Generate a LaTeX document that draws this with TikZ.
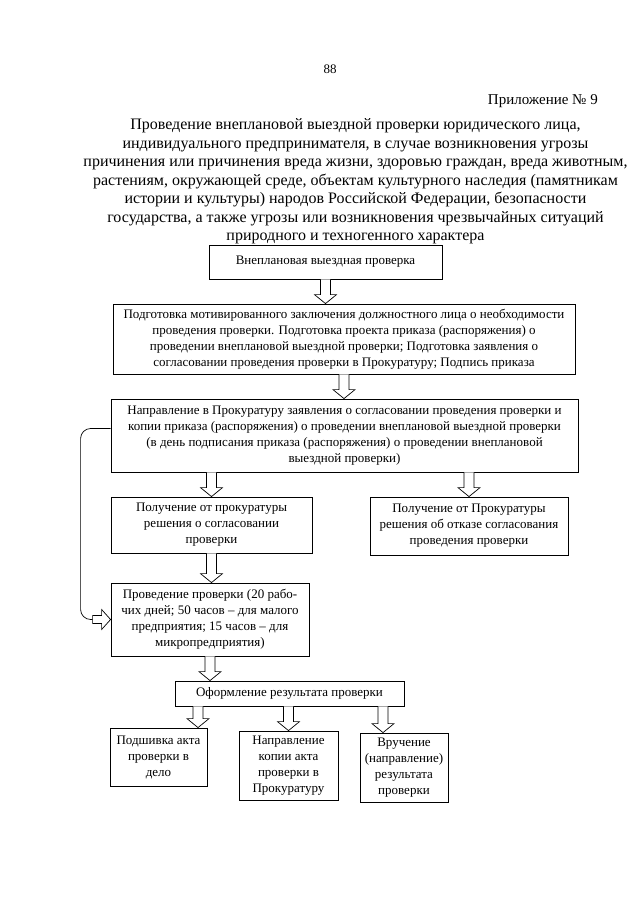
\documentclass[tikz,border=0pt]{standalone}
\usepackage{fontspec}
\setmainfont{Liberation Serif}
\usetikzlibrary{calc}

\tikzset{
	box/.style={draw, line width=0.8pt, align=center, inner sep=0pt, font=\fontsize{13}{16}\selectfont},
	fat/.style={draw, line width=0.7pt, fill=white}
}
% hollow block arrows
\newcommand{\fatdown}[2]{\path[fat] let \p1=(#1), \p2=(#2) in (\x1-5pt,\y1) -- (\x1-5pt,\y2+9pt) -- (\x1-11pt,\y2+9pt) -- (\x1,\y2) -- (\x1+11pt,\y2+9pt) -- (\x1+5pt,\y2+9pt) -- (\x1+5pt,\y1);}
\newcommand{\fatright}[2]{\path[fat] let \p1=(#1), \p2=(#2) in (\x1,\y1+4pt) -- (\x2-9pt,\y1+4pt) -- (\x2-9pt,\y1+10pt) -- (\x2,\y1) -- (\x2-9pt,\y1-10pt) -- (\x2-9pt,\y1-4pt) -- (\x1,\y1-4pt) -- cycle;}

\begin{document}
\begin{tikzpicture}[x=1pt, y=-1pt]
				\useasboundingbox[fill=white] (0,0) rectangle (640,905);
				%heading
				\node (page) at (330,69) {\fontsize{13}{16}\selectfont 88};
				\node (app) at (598,101) [anchor=east, inner sep=0pt]{\fontsize{15}{18}\selectfont Приложение № 9};
				\node (title) at (355.5,181.5) [align=center, font=\fontsize{16}{18.5}\selectfont]{Проведение внеплановой выездной проверки юридического лица,\\
					индивидуального предпринимателя, в случае возникновения угрозы\\
					причинения или причинения вреда жизни, здоровью граждан, вреда животным,\\
					растениям, окружающей среде, объектам культурного наследия (памятникам\\
					истории и культуры) народов Российской Федерации, безопасности\\
					государства, а также угрозы или возникновения чрезвычайных ситуаций\\
					природного и техногенного характера};
				
				%steps
				\node (start) at (325.5,262) [box, minimum width=233pt, minimum height=34pt]{Внеплановая выездная проверка};
				\node (prep) at (344,339) [box, minimum width=462pt, minimum height=70pt]{Подготовка мотивированного заключения должностного лица о необходимости\\проведения  проверки. Подготовка проекта приказа (распоряжения) о\\проведении внеплановой выездной проверки; Подготовка заявления о\\согласовании проведения проверки в Прокуратуру; Подпись приказа};
				\node (send) at (344.5,435.5) [box, minimum width=467pt, minimum height=73pt]{Направление в Прокуратуру заявления о согласовании проведения проверки и\\копии приказа (распоряжения) о проведении внеплановой выездной проверки\\(в день подписания приказа (распоряжения) о проведении внеплановой\\выездной проверки)};
				\node (agree) at (211.5,525) [box, minimum width=201pt, minimum height=56pt]{Получение от прокуратуры\\решения о согласовании\\проверки};
				\node (refuse) at (469,526) [box, minimum width=198pt, minimum height=58pt]{Получение от Прокуратуры\\решения об отказе согласования\\проведения проверки};
				\node (check) at (210,619.5) [box, minimum width=198pt, minimum height=73pt]{Проведение проверки (20 рабо-\\чих дней; 50 часов – для малого\\предприятия; 15 часов – для\\микропредприятия)};
				\node (result) at (289.5,693.5) [box, minimum width=229pt, minimum height=25pt]{Оформление результата проверки};
				\node (file) at (158.5,757) [box, minimum width=97pt, minimum height=58pt]{Подшивка акта\\проверки в\\дело};
				\node (copy) at (288.5,765.5) [box, minimum width=99pt, minimum height=69pt]{Направление\\копии акта\\проверки в\\Прокуратуру};
				\node (hand) at (404,767.5) [box, minimum width=88pt, minimum height=69pt]{Вручение\\(направление)\\результата\\проверки};
				
				%arrows
				\fatdown{start.south}{prep.north}
				\fatdown{prep.south}{send.north}
				\fatdown{send.south -| agree.north}{agree.north}
				\fatdown{send.south -| refuse.north}{refuse.north}
				\fatdown{agree.south}{agree.south |- check.north}
				\fatdown{check.south}{check.south |- result.north}
				\fatdown{result.south -| 198,0}{file.north -| 198,0}
				\fatdown{result.south -| copy.north}{copy.north}
				\fatdown{result.south -| 383,0}{hand.north -| 383,0}
				
				%bypass
				\coordinate (back) at ([xshift=-18pt]check.west);
				\draw[line width=0.7pt, rounded corners=10pt] ([yshift=7pt]send.west) -- ++(-30,0) |- (back);
				\fatright{back}{check.west}
			\end{tikzpicture}
\end{document}
